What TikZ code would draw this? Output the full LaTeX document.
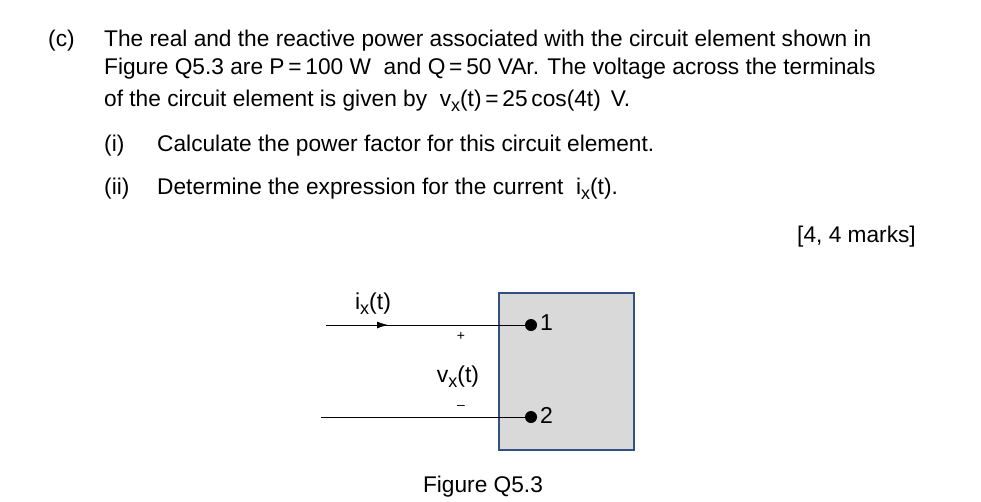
\documentclass[tikz,border=0pt]{standalone}
\usepackage{fontspec}
\setmainfont{Liberation Sans}
\usetikzlibrary{arrows.meta}
\begin{document}
\begin{tikzpicture}[x=1pt,y=-1pt,
  txt/.style={anchor=base west,inner sep=0pt,font=\fontsize{22.7}{26}\selectfont},
  lbl/.style={inner sep=0pt,font=\fontsize{23}{26}\selectfont},
  wire/.style={line width=0.8pt},
  term/.style={circle,fill=black,inner sep=0pt,minimum size=12pt}]
\useasboundingbox (0,0) rectangle (981,501);
\node[txt] (c) at (48,46) {(c)};
\node[txt] (l1) at (104,46) {The real and the reactive power associated with the circuit element shown in};
\node[txt] (l2) at (104,74) {Figure Q5.3 are P\,=\,100 W \ and Q\,=\,50 VAr. The voltage across the terminals};
\node[txt] (l3) at (104,106) {of the circuit element is given by \ v\raisebox{-5pt}{\fontsize{18}{18}\selectfont x}(t)\,=\,25\,cos(4t) \,V.};
\node[txt] (i1) at (104,151) {(i)};
\node[txt] (q1) at (157,151) {Calculate the power factor for this circuit element.};
\node[txt] (i2) at (104,194) {(ii)};
\node[txt] (q2) at (157,194) {Determine the expression for the current \ i\raisebox{-5pt}{\fontsize{18}{18}\selectfont x}(t).};
\node[txt,anchor=base east] (mk) at (916,242) {[4, 4 marks]};
\draw[draw={rgb,255:red,50;green,80;blue,130},fill={rgb,255:red,217;green,217;blue,217},line width=1.2pt] (499,293) rectangle (634,450);
\node[term] (t1) at (531,325) {};
\node[term] (t2) at (531,417) {};
\node[lbl,anchor=west] (n1) at (540,323) {1};
\node[lbl,anchor=west] (n2) at (540,415) {2};
\coordinate (a1) at (326,325);
\coordinate (a2) at (321,417);
\coordinate (am) at (388,325);
\draw[wire] (a1) -- (t1);
\draw[wire] (t2) -- (a2);
\draw[wire,-{Latex[length=11pt,width=7pt]}] (a1) -- (am);
\node[lbl,anchor=base] (ix) at (373,309) {i\raisebox{-5pt}{\fontsize{18}{18}\selectfont x}(t)};
\node[lbl,anchor=base] (vx) at (458,382) {v\raisebox{-5pt}{\fontsize{18}{18}\selectfont x}(t)};
\node[inner sep=0pt,font=\fontsize{14}{14}\selectfont] (pl) at (461,336) {+};
\node[inner sep=0pt,font=\fontsize{14}{14}\selectfont] (mi) at (461,407) {--};
\node[txt,anchor=base] (cap) at (483,492) {Figure Q5.3};
\end{tikzpicture}
\end{document}
